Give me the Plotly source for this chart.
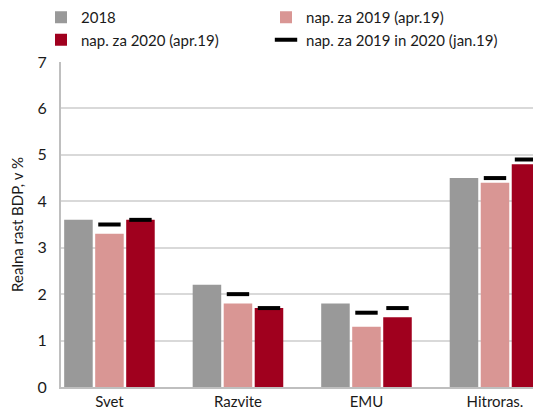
import plotly.graph_objects as go

categories = ["Svet", "Razvite", "EMU", "Hitroras."]
v2018 = [3.6, 2.2, 1.8, 4.5]
v2019_apr = [3.3, 1.8, 1.3, 4.4]
v2020_apr = [3.6, 1.7, 1.5, 4.8]
v2019_jan = [3.5, 2.0, 1.6, 4.5]
v2020_jan = [3.6, 1.7, 1.7, 4.9]
y_ticks = [0, 1, 2, 3, 4, 5, 6, 7]

names = ["2018", "nap. za 2019 (apr.19)", "nap. za 2020 (apr.19)", "nap. za 2019 in 2020 (jan.19)"]
colors = ["#999999", "#d99694", "#a0001e"]
legend_of = ["legend", "legend2", "legend"]

FONT = "Lato"
bargap = 0.276
bargroupgap = 0.08
slot = (1 - bargap) / 3
xs = list(range(len(categories)))

fig = go.Figure()
for vals, name, col, lg in zip([v2018, v2019_apr, v2020_apr], names[:3], colors, legend_of):
    fig.add_trace(go.Bar(x=xs, y=vals, name=name, legend=lg, legendgroup=name,
                         marker=dict(color=col, line=dict(width=0))))

fig.add_trace(go.Scatter(
    x=[i for i in xs], y=v2019_jan, mode="markers", name=names[3], legendgroup="jan",
    legend="legend2",
    marker=dict(symbol="line-ew", size=16, line=dict(width=4, color="black"), color="black")))
fig.add_trace(go.Scatter(
    x=[i + slot for i in xs], y=v2020_jan, mode="markers", name=names[3], legendgroup="jan",
    legend="legend2", showlegend=False,
    marker=dict(symbol="line-ew", size=16, line=dict(width=4, color="black"), color="black")))

leg_common = dict(orientation="v", yref="paper", y=1.1877, yanchor="top", xanchor="left",
                  itemwidth=30, font=dict(size=15, family=FONT), tracegroupgap=1,
                  bgcolor="rgba(0,0,0,0)", traceorder="normal")

# page body has an 8px margin, so the figure is sized/offset to compensate
fig.update_layout(
    width=533, height=402,
    margin=dict(l=53, r=0, t=54, b=23, autoexpand=False),
    paper_bgcolor="white", plot_bgcolor="white",
    barmode="group", bargap=bargap, bargroupgap=bargroupgap,
    font=dict(family=FONT, size=15, color="#1a1a1a"),
    showlegend=True,
    legend=dict(x=-0.0417, **leg_common),
    legend2=dict(x=0.4271, **leg_common),
    xaxis=dict(range=[-0.377, 3.358], tickmode="array", tickvals=xs, ticktext=categories,
               showgrid=False, showline=True, linecolor="#bfbfbf", linewidth=2,
               ticks="", tickfont=dict(size=15), zeroline=False, fixedrange=True),
    yaxis=dict(range=[0, 7], tickmode="array", tickvals=y_ticks, showgrid=True,
               gridcolor="#d9d9d9", gridwidth=1.5, showline=True, linecolor="#bfbfbf",
               linewidth=2, ticks="", tickfont=dict(size=16), ticklabelstandoff=9,
               zeroline=False,
               title=dict(text="Realna rast BDP, v %", font=dict(size=15), standoff=10)),
)

fig.write_html("out.html")
